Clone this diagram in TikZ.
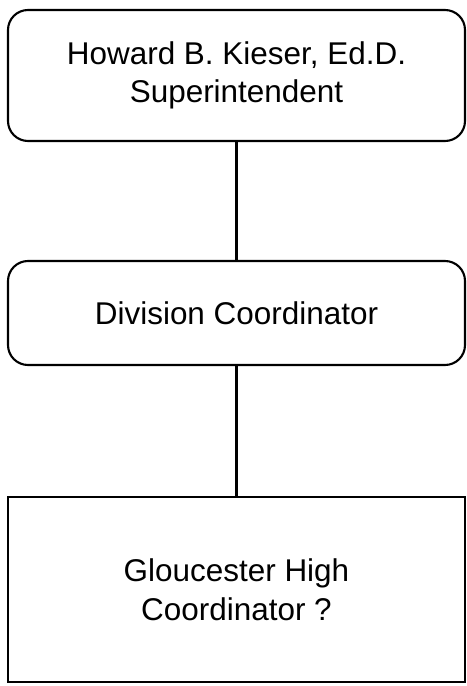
\documentclass[tikz,border=0pt]{standalone}
\usepackage{fontspec}
\setmainfont{Liberation Sans}
\usetikzlibrary{positioning}

\begin{document}
\begin{tikzpicture}
	[font=\fontsize{17.9}{22}\selectfont, inner sep=0pt, line width=1.2pt,
	office/.style	= {rectangle,draw,rounded corners=4mm,align=center,minimum width=91.4mm},
	post/.style	= {rectangle,draw,align=center,minimum width=91.4mm,minimum height=37mm},
	link/.style	= {-, line width=1.2pt}]
	
	\useasboundingbox (0,0) rectangle (9.32,-13.72);
	
	\node at (4.73, -1.51)	[office, minimum height=26.2mm]	(supt)	{Howard B. Kieser, Ed.D.\\Superintendent};
	\node at (4.73, -6.26)	[office, minimum height=20.8mm]	(divc)	{Division Coordinator};
	\node at (4.73, -11.79)	[post]				(ghs)	{Gloucester High\\Coordinator ?};
	
	\draw [link] (supt.south) -- (divc.north);
	\draw [link] (divc.south) -- (ghs.north);
	
\end{tikzpicture}
\end{document}
